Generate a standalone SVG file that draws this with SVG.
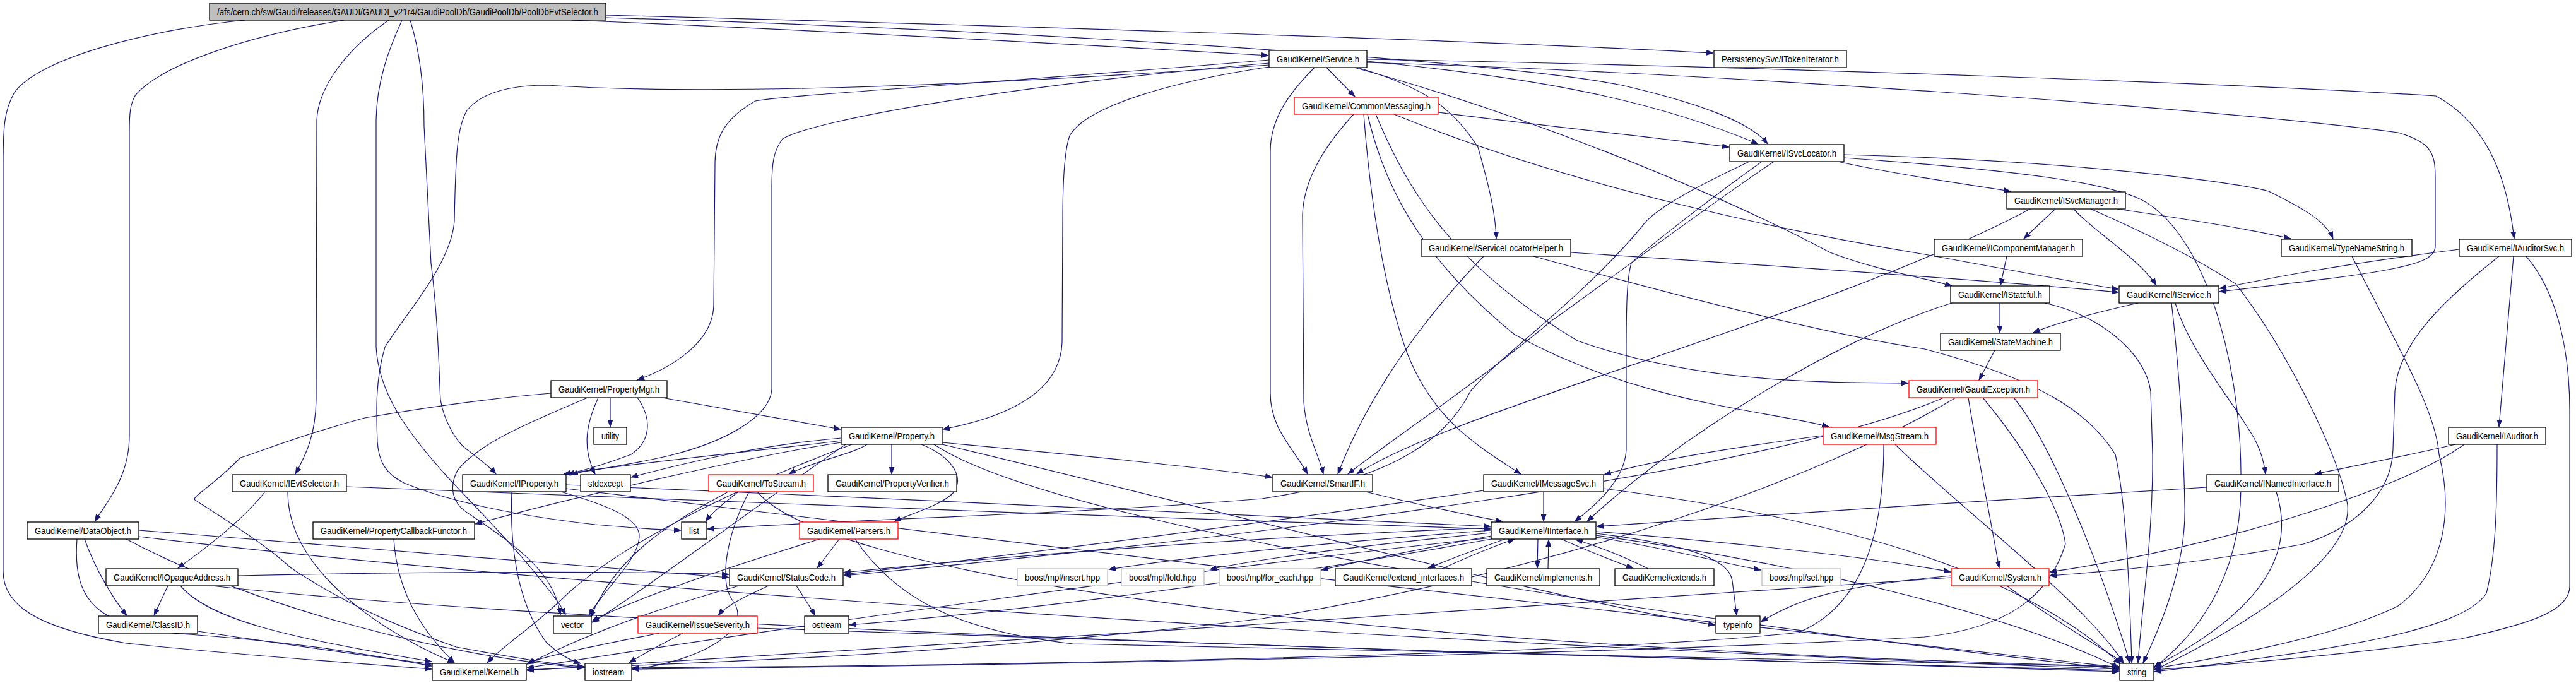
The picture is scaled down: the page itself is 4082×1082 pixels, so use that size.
<svg xmlns="http://www.w3.org/2000/svg" width="4082" height="1082" viewBox="0 0 4082 1082">
<style>
rect{fill:#fff;stroke:#000;stroke-width:1.3}
.r rect{stroke:#f00}
.g rect{stroke:#bfbfbf}
.root rect{fill:#bfbfbf}
text{font-family:"Liberation Sans",Arial,sans-serif;font-size:14px;text-anchor:middle;fill:#000}
#edges path{fill:none;stroke:#191970;stroke-width:1.2;marker-end:url(#a)}
</style>
<defs><marker id="a" markerWidth="12" markerHeight="9" refX="11" refY="4.5" orient="auto" markerUnits="userSpaceOnUse"><path d="M0,0 L12,4.5 L0,9 z" fill="#191970"/></marker></defs>
<rect x="0" y="0" width="4082" height="1082" style="fill:#fff;stroke:none"/>
<g id="edges">
<path d="M388,32 C250,45 60,90 22,148 C7,175 5,200 5,260 L5,905 C5,960 60,995 200,1019 C350,1035 550,1050 684,1060"/>
<path d="M545,32 C400,55 260,100 215,150 C206,165 205,180 205,210 L205,690 C205,755 170,795 150,826"/>
<path d="M616,32 C560,70 505,130 502,190 L501,633 C500,690 485,720 468,751"/>
<path d="M637,32 C615,80 597,130 596,190 L596,550 C600,620 640,680 713,760 C760,810 830,880 885,955 C890,962 893,967 896,974"/>
<path d="M650,32 C665,80 672,140 672,200 L683,417 C696,517 696,610 698,633 C702,660 720,700 744,715 C760,728 775,738 786,751"/>
<path d="M906,32 C1300,48 1700,70 2010,88"/>
<path d="M960,24 C1500,38 2300,62 2715,84"/>
<path d="M960,28 C1700,50 2400,100 2570,135 C2700,165 2775,195 2801,228"/>
<path d="M2102,107 L2147,153"/>
<path d="M2166,97 C2400,120 2600,150 2786,228"/>
<path d="M2151,107 C2263,140 2302,173 2342,233 C2361,300 2370,340 2371,378"/>
<path d="M2146,107 C2450,190 2750,320 2900,400 C2980,430 3050,440 3093,453"/>
<path d="M2166,99 C2700,115 3500,170 3800,210 C3850,225 3859,240 3859,280 L3859,390 C3859,420 3800,430 3517,462"/>
<path d="M2166,94 C2800,105 3600,135 3860,152 C3950,200 3975,300 3984,378"/>
<path d="M2011,95 C1600,130 1250,150 1197,160 C1145,190 1133,220 1133,260 L1131,483 C1130,540 1070,580 1010,602"/>
<path d="M2011,106 C1850,130 1720,170 1695,215 C1686,240 1684,300 1684,350 L1683,543 C1680,620 1600,660 1494,680"/>
<path d="M2011,100 C1600,135 1290,190 1240,220 C1225,240 1223,260 1223,300 L1223,617 C1220,660 1150,700 1060,722 C990,738 940,744 905,751"/>
<path d="M2083,107 C2040,150 2013,190 2013,240 L2013,623 C2013,680 2050,710 2072,751"/>
<path d="M2011,103 C1500,140 1100,150 867,135 C800,135 760,150 740,175 C725,200 722,240 720,350 C715,420 640,500 610,550 C595,600 596,650 598,700 C600,730 610,750 640,765 C700,790 800,815 943,831 C1000,836 1040,839 1079,840"/>
<path d="M2279,178 C2450,200 2600,215 2740,233"/>
<path d="M2145,181 C2100,230 2066,283 2064,340 L2066,637 C2070,690 2090,720 2097,751"/>
<path d="M2161,181 C2170,300 2190,450 2230,560 C2270,660 2330,700 2410,751"/>
<path d="M2167,181 C2190,280 2240,400 2400,530 C2600,640 2800,650 2898,676"/>
<path d="M2180,181 C2230,300 2300,420 2500,540 C2700,610 2900,605 3024,607"/>
<path d="M2209,181 C2500,300 2850,370 3050,403 C3200,430 3300,450 3357,458"/>
<path d="M2912,256 C3000,275 3100,290 3186,303"/>
<path d="M2922,245 C3300,255 3550,290 3595,303 C3650,330 3685,350 3697,378"/>
<path d="M2792,256 C2716,310 2600,400 2585,417 C2578,440 2577,483 2577,560 L2577,712 C2575,760 2530,800 2495,826"/>
<path d="M2811,256 C2700,330 2500,480 2460,507 C2350,600 2200,700 2136,751"/>
<path d="M2772,256 C2700,290 2620,330 2601,360 C2500,480 2380,560 2330,620 C2290,700 2200,760 2000,790 C1700,815 1400,820 1121,838"/>
<path d="M2922,250 C3200,270 3350,290 3400,320 C3500,380 3560,600 3550,800 C3540,950 3450,1030 3413,1058"/>
<path d="M3257,331 L3207,378"/>
<path d="M3355,331 C3450,345 3550,360 3630,378"/>
<path d="M3286,331 C3310,360 3390,410 3417,452"/>
<path d="M3313,331 C3398,368 3477,407 3543,450 C3621,550 3707,720 3720,800 C3730,900 3500,1020 3413,1062"/>
<path d="M3217,331 C2900,500 2300,650 2150,751"/>
<path d="M3180,406 L3170,452"/>
<path d="M3169,480 L3169,527"/>
<path d="M3093,480 C2900,540 2650,700 2515,826"/>
<path d="M3240,480 C3330,500 3400,560 3408,620 L3411,720 C3412,850 3395,950 3388,1050"/>
<path d="M3388,480 C3300,500 3250,515 3222,527"/>
<path d="M3447,480 C3470,560 3550,650 3575,700 C3585,720 3588,735 3590,751"/>
<path d="M3441,480 C3455,600 3460,700 3462,800 C3465,900 3420,1000 3396,1050"/>
<path d="M3897,395 C3700,420 3600,440 3517,457"/>
<path d="M3983,406 L3960,676"/>
<path d="M3960,406 C3880,470 3800,540 3795,620 L3792,712 C3790,790 3720,840 3650,862 C3500,890 3350,905 3248,912"/>
<path d="M4003,406 C4050,460 4072,550 4072,650 L4072,929 C4072,970 4000,990 3900,1012 C3700,1040 3500,1055 3414,1061"/>
<path d="M3891,704 C3800,725 3720,740 3668,751"/>
<path d="M3905,704 C3800,780 3500,870 3248,906"/>
<path d="M3957,704 C3957,800 3955,880 3940,940 C3900,1000 3700,1030 3414,1064"/>
<path d="M3497,772 C3200,790 2800,815 2530,834"/>
<path d="M3607,779 C3630,850 3620,950 3414,1056"/>
<path d="M3727,406 C3800,550 3860,650 3865,720 C3885,800 3880,900 3800,960 C3700,1010 3500,1045 3414,1059"/>
<path d="M3161,555 L3136,602"/>
<path d="M2489,400 C2800,420 3100,440 3357,463"/>
<path d="M2430,406 C2700,480 2900,530 3050,553 C3240,603 3313,657 3352,720 C3370,800 3375,950 3378,1050"/>
<path d="M2351,406 C2260,500 2170,620 2120,751"/>
<path d="M3119,630 C3130,700 3150,800 3168,900"/>
<path d="M3099,630 C2900,750 2500,900 2000,980 C1500,1040 1100,1050 835,1061"/>
<path d="M3142,630 C3217,720 3267,812 3273,862 C3247,945 3181,995 3050,1009 C2500,1040 1500,1055 1002,1060"/>
<path d="M3191,630 C3250,700 3330,900 3375,1050"/>
<path d="M3080,630 C2800,750 2000,850 1337,912"/>
<path d="M2889,690 C2700,715 2600,735 2542,752"/>
<path d="M3003,704 C3100,800 3300,950 3365,1050"/>
<path d="M2985,704 C2985,850 2950,960 2850,1002 C2500,1040 1500,1055 1002,1058"/>
<path d="M2446,779 L2446,826"/>
<path d="M2541,774 C2900,820 3200,900 3360,1052"/>
<path d="M2351,777 C2000,830 1600,880 1337,910"/>
<path d="M2385,854 C2340,870 2300,885 2263,900"/>
<path d="M2285,901 C2320,885 2360,868 2400,854"/>
<path d="M2437,854 L2436,900"/>
<path d="M2453,901 L2454,855"/>
<path d="M2474,854 C2510,870 2560,890 2588,900"/>
<path d="M2612,901 C2570,880 2530,865 2497,855"/>
<path d="M2363,840 C2100,860 1900,880 1757,902"/>
<path d="M2363,844 C2150,865 2000,885 1917,902"/>
<path d="M2363,849 C2250,870 2150,890 2094,903"/>
<path d="M2529,851 C2650,870 2720,890 2790,903"/>
<path d="M2529,845 C2650,860 2740,880 2745,920 L2752,975"/>
<path d="M2363,836 C2000,850 1600,880 1337,907"/>
<path d="M2363,852 C1900,900 1200,1000 835,1058"/>
<path d="M2529,842 C2750,860 2950,880 3091,906"/>
<path d="M2363,854 C2000,920 1600,970 1346,990"/>
<path d="M2529,848 C2900,900 3200,980 3358,1058"/>
<path d="M2164,779 C2250,800 2320,815 2381,826"/>
<path d="M1262,928 L1292,975"/>
<path d="M1218,928 C1180,945 1150,960 1138,975"/>
<path d="M1171,928 C1000,975 900,1020 835,1052"/>
<path d="M1045,1003 C960,1020 880,1035 836,1050"/>
<path d="M1200,995 C1800,1020 2800,1045 3358,1064"/>
<path d="M1082,1003 C1050,1020 1020,1035 997,1050"/>
<path d="M313,1000 C450,1020 580,1040 684,1052"/>
<path d="M266,928 L244,975"/>
<path d="M286,928 C330,980 450,1010 684,1048"/>
<path d="M335,928 C1000,1000 2500,1040 3358,1062"/>
<path d="M377,912 C700,905 1000,905 1155,910"/>
<path d="M134,854 C150,900 180,950 201,975"/>
<path d="M220,840 C600,870 1000,900 1155,915"/>
<path d="M122,854 C115,950 150,995 300,1005 C500,1020 600,1040 684,1055"/>
<path d="M220,850 C800,920 2000,1010 3358,1060"/>
<path d="M200,854 C400,960 700,1040 926,1058"/>
<path d="M420,779 C380,830 310,880 282,900"/>
<path d="M549,771 C1000,790 1800,820 2362,838"/>
<path d="M456,779 C455,900 600,1000 720,1050"/>
<path d="M897,768 C1400,790 2000,815 2362,834"/>
<path d="M897,774 C1500,850 2800,1000 3358,1057"/>
<path d="M889,779 C960,800 1015,820 1013,851 C1010,890 960,930 933,975"/>
<path d="M811,779 C808,850 815,950 866,1018 C885,1035 900,1045 920,1051"/>
<path d="M624,854 C630,950 680,1010 720,1050"/>
<path d="M1170,779 C1150,795 1130,810 1118,826"/>
<path d="M1154,779 C1080,820 980,870 936,978"/>
<path d="M1187,779 C1150,850 1140,920 1160,950 C1200,1000 1100,1050 1002,1060"/>
<path d="M1200,779 C1300,900 2000,1020 3358,1056"/>
<path d="M1330,854 L1295,900"/>
<path d="M1299,854 C1150,900 1000,950 938,984"/>
<path d="M1355,854 C1420,950 1520,1000 1700,1020 C2500,1040 3000,1050 3358,1056"/>
<path d="M3092,915 C2500,960 1500,1020 835,1062"/>
<path d="M3180,928 C3250,980 3320,1020 3365,1050"/>
<path d="M3092,912 C2900,930 2850,950 2790,985"/>
<path d="M1374,704 C1350,720 1290,730 1250,751"/>
<path d="M1413,704 L1413,751"/>
<path d="M1460,704 C1500,720 1530,750 1512,779 C1495,800 1440,815 1417,826"/>
<path d="M1493,701 C1700,720 1900,740 2016,756"/>
<path d="M1333,698 C1200,715 1030,730 893,751"/>
<path d="M1333,694 C1200,705 1080,735 1000,756"/>
<path d="M1333,701 C1200,720 900,790 753,830"/>
<path d="M1340,704 C1200,800 1000,950 938,986"/>
<path d="M1350,704 C1200,760 1000,850 900,940 C850,990 800,1020 772,1050"/>
<path d="M1493,704 C1900,800 2500,960 2718,990"/>
<path d="M1480,704 C1700,850 2800,1000 3358,1060"/>
<path d="M1049,630 C1150,648 1250,665 1332,680"/>
<path d="M967,630 L967,676"/>
<path d="M948,630 C925,680 925,715 943,751"/>
<path d="M931,630 C850,665 760,700 725,745 C712,770 715,795 740,812 C790,845 840,880 866,918 C880,940 885,955 888,974"/>
<path d="M1010,630 C1035,665 1030,700 1000,720 C960,735 925,745 900,751"/>
<path d="M873,623 C788,630 696,642 578,662 C466,692 401,720 381,725 C335,772 303,787 309,792 C355,822 420,862 460,899 C558,965 657,1002 723,1025 C854,1049 900,1055 926,1056"/>
</g>
<g id="n_root" class="root"><rect x="332" y="5" width="628" height="27"/><text x="646" y="24" textLength="604" lengthAdjust="spacingAndGlyphs">/afs/cern.ch/sw/Gaudi/releases/GAUDI/GAUDI_v21r4/GaudiPoolDb/GaudiPoolDb/PoolDbEvtSelector.h</text></g>
<g id="n_service"><rect x="2011" y="80" width="155" height="27"/><text x="2088.5" y="99" textLength="131" lengthAdjust="spacingAndGlyphs">GaudiKernel/Service.h</text></g>
<g id="n_itok"><rect x="2716" y="80" width="210" height="27"/><text x="2821" y="99" textLength="186" lengthAdjust="spacingAndGlyphs">PersistencySvc/ITokenIterator.h</text></g>
<g id="n_cm" class="r"><rect x="2051" y="154" width="228" height="27"/><text x="2165" y="173" textLength="204" lengthAdjust="spacingAndGlyphs">GaudiKernel/CommonMessaging.h</text></g>
<g id="n_isl"><rect x="2741" y="229" width="181" height="27"/><text x="2831.5" y="248" textLength="157" lengthAdjust="spacingAndGlyphs">GaudiKernel/ISvcLocator.h</text></g>
<g id="n_ism"><rect x="3180" y="304" width="188" height="27"/><text x="3274" y="323" textLength="164" lengthAdjust="spacingAndGlyphs">GaudiKernel/ISvcManager.h</text></g>
<g id="n_slh"><rect x="2252" y="379" width="237" height="27"/><text x="2370.5" y="398" textLength="213" lengthAdjust="spacingAndGlyphs">GaudiKernel/ServiceLocatorHelper.h</text></g>
<g id="n_icm"><rect x="3065" y="379" width="235" height="27"/><text x="3182.5" y="398" textLength="211" lengthAdjust="spacingAndGlyphs">GaudiKernel/IComponentManager.h</text></g>
<g id="n_tns"><rect x="3615" y="379" width="207" height="27"/><text x="3718.5" y="398" textLength="183" lengthAdjust="spacingAndGlyphs">GaudiKernel/TypeNameString.h</text></g>
<g id="n_ias"><rect x="3897" y="379" width="178" height="27"/><text x="3986" y="398" textLength="154" lengthAdjust="spacingAndGlyphs">GaudiKernel/IAuditorSvc.h</text></g>
<g id="n_istf"><rect x="3091" y="453" width="157" height="27"/><text x="3169.5" y="472" textLength="133" lengthAdjust="spacingAndGlyphs">GaudiKernel/IStateful.h</text></g>
<g id="n_isvc"><rect x="3358" y="453" width="158" height="27"/><text x="3437" y="472" textLength="134" lengthAdjust="spacingAndGlyphs">GaudiKernel/IService.h</text></g>
<g id="n_sm"><rect x="3075" y="528" width="190" height="27"/><text x="3170" y="547" textLength="166" lengthAdjust="spacingAndGlyphs">GaudiKernel/StateMachine.h</text></g>
<g id="n_pm"><rect x="873" y="603" width="184" height="27"/><text x="965" y="622" textLength="160" lengthAdjust="spacingAndGlyphs">GaudiKernel/PropertyMgr.h</text></g>
<g id="n_ge" class="r"><rect x="3025" y="603" width="204" height="27"/><text x="3127" y="622" textLength="180" lengthAdjust="spacingAndGlyphs">GaudiKernel/GaudiException.h</text></g>
<g id="n_util"><rect x="941" y="677" width="52" height="27"/><text x="967" y="696" textLength="28" lengthAdjust="spacingAndGlyphs">utility</text></g>
<g id="n_prop"><rect x="1333" y="677" width="160" height="27"/><text x="1413" y="696" textLength="136" lengthAdjust="spacingAndGlyphs">GaudiKernel/Property.h</text></g>
<g id="n_msg" class="r"><rect x="2889" y="677" width="179" height="27"/><text x="2978.5" y="696" textLength="155" lengthAdjust="spacingAndGlyphs">GaudiKernel/MsgStream.h</text></g>
<g id="n_iaud"><rect x="3880" y="677" width="154" height="27"/><text x="3957" y="696" textLength="130" lengthAdjust="spacingAndGlyphs">GaudiKernel/IAuditor.h</text></g>
<g id="n_ievt"><rect x="368" y="752" width="181" height="27"/><text x="458.5" y="771" textLength="157" lengthAdjust="spacingAndGlyphs">GaudiKernel/IEvtSelector.h</text></g>
<g id="n_iprop"><rect x="733" y="752" width="164" height="27"/><text x="815" y="771" textLength="140" lengthAdjust="spacingAndGlyphs">GaudiKernel/IProperty.h</text></g>
<g id="n_stdx"><rect x="920" y="752" width="79" height="27"/><text x="959.5" y="771" textLength="55" lengthAdjust="spacingAndGlyphs">stdexcept</text></g>
<g id="n_ts" class="r"><rect x="1123" y="752" width="166" height="27"/><text x="1206" y="771" textLength="142" lengthAdjust="spacingAndGlyphs">GaudiKernel/ToStream.h</text></g>
<g id="n_pv"><rect x="1312" y="752" width="204" height="27"/><text x="1414" y="771" textLength="180" lengthAdjust="spacingAndGlyphs">GaudiKernel/PropertyVerifier.h</text></g>
<g id="n_sif"><rect x="2017" y="752" width="158" height="27"/><text x="2096" y="771" textLength="134" lengthAdjust="spacingAndGlyphs">GaudiKernel/SmartIF.h</text></g>
<g id="n_ims"><rect x="2351" y="752" width="190" height="27"/><text x="2446" y="771" textLength="166" lengthAdjust="spacingAndGlyphs">GaudiKernel/IMessageSvc.h</text></g>
<g id="n_ini"><rect x="3497" y="752" width="209" height="27"/><text x="3601.5" y="771" textLength="185" lengthAdjust="spacingAndGlyphs">GaudiKernel/INamedInterface.h</text></g>
<g id="n_do"><rect x="43" y="827" width="177" height="27"/><text x="131.5" y="846" textLength="153" lengthAdjust="spacingAndGlyphs">GaudiKernel/DataObject.h</text></g>
<g id="n_pcf"><rect x="496" y="827" width="256" height="27"/><text x="624" y="846" textLength="232" lengthAdjust="spacingAndGlyphs">GaudiKernel/PropertyCallbackFunctor.h</text></g>
<g id="n_list"><rect x="1080" y="827" width="40" height="27"/><text x="1100" y="846" textLength="16" lengthAdjust="spacingAndGlyphs">list</text></g>
<g id="n_pars" class="r"><rect x="1267" y="827" width="156" height="27"/><text x="1345" y="846" textLength="132" lengthAdjust="spacingAndGlyphs">GaudiKernel/Parsers.h</text></g>
<g id="n_ii"><rect x="2363" y="827" width="166" height="27"/><text x="2446" y="846" textLength="142" lengthAdjust="spacingAndGlyphs">GaudiKernel/IInterface.h</text></g>
<g id="n_ioa"><rect x="168" y="901" width="209" height="27"/><text x="272.5" y="920" textLength="185" lengthAdjust="spacingAndGlyphs">GaudiKernel/IOpaqueAddress.h</text></g>
<g id="n_sc"><rect x="1156" y="901" width="180" height="27"/><text x="1246" y="920" textLength="156" lengthAdjust="spacingAndGlyphs">GaudiKernel/StatusCode.h</text></g>
<g id="n_ins" class="g"><rect x="1612" y="901" width="143" height="27"/><text x="1683.5" y="920" textLength="119" lengthAdjust="spacingAndGlyphs">boost/mpl/insert.hpp</text></g>
<g id="n_fold" class="g"><rect x="1777" y="901" width="131" height="27"/><text x="1842.5" y="920" textLength="107" lengthAdjust="spacingAndGlyphs">boost/mpl/fold.hpp</text></g>
<g id="n_fe" class="g"><rect x="1932" y="901" width="161" height="27"/><text x="2012.5" y="920" textLength="137" lengthAdjust="spacingAndGlyphs">boost/mpl/for_each.hpp</text></g>
<g id="n_ext"><rect x="2116" y="901" width="216" height="27"/><text x="2224" y="920" textLength="192" lengthAdjust="spacingAndGlyphs">GaudiKernel/extend_interfaces.h</text></g>
<g id="n_impl"><rect x="2356" y="901" width="179" height="27"/><text x="2445.5" y="920" textLength="155" lengthAdjust="spacingAndGlyphs">GaudiKernel/implements.h</text></g>
<g id="n_exts"><rect x="2559" y="901" width="157" height="27"/><text x="2637.5" y="920" textLength="133" lengthAdjust="spacingAndGlyphs">GaudiKernel/extends.h</text></g>
<g id="n_set" class="g"><rect x="2792" y="901" width="125" height="27"/><text x="2854.5" y="920" textLength="101" lengthAdjust="spacingAndGlyphs">boost/mpl/set.hpp</text></g>
<g id="n_sys" class="r"><rect x="3092" y="901" width="155" height="27"/><text x="3169.5" y="920" textLength="131" lengthAdjust="spacingAndGlyphs">GaudiKernel/System.h</text></g>
<g id="n_cid"><rect x="156" y="976" width="157" height="27"/><text x="234.5" y="995" textLength="133" lengthAdjust="spacingAndGlyphs">GaudiKernel/ClassID.h</text></g>
<g id="n_vec"><rect x="877" y="976" width="60" height="27"/><text x="907" y="995" textLength="36" lengthAdjust="spacingAndGlyphs">vector</text></g>
<g id="n_is" class="r"><rect x="1011" y="976" width="189" height="27"/><text x="1105.5" y="995" textLength="165" lengthAdjust="spacingAndGlyphs">GaudiKernel/IssueSeverity.h</text></g>
<g id="n_ost"><rect x="1275" y="976" width="70" height="27"/><text x="1310" y="995" textLength="46" lengthAdjust="spacingAndGlyphs">ostream</text></g>
<g id="n_ti"><rect x="2719" y="976" width="70" height="27"/><text x="2754" y="995" textLength="46" lengthAdjust="spacingAndGlyphs">typeinfo</text></g>
<g id="n_ker"><rect x="685" y="1051" width="149" height="27"/><text x="759.5" y="1070" textLength="125" lengthAdjust="spacingAndGlyphs">GaudiKernel/Kernel.h</text></g>
<g id="n_ios"><rect x="927" y="1051" width="74" height="27"/><text x="964" y="1070" textLength="50" lengthAdjust="spacingAndGlyphs">iostream</text></g>
<g id="n_str"><rect x="3359" y="1051" width="54" height="27"/><text x="3386" y="1070" textLength="30" lengthAdjust="spacingAndGlyphs">string</text></g>
</svg>
